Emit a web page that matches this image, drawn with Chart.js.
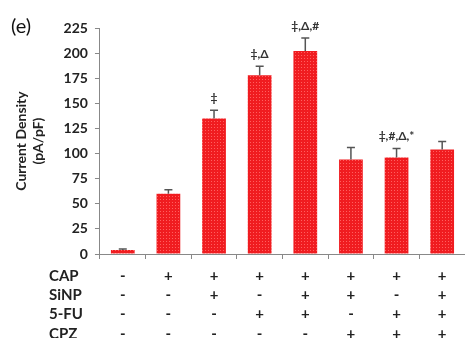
<!DOCTYPE html>
<html>
<head>
<meta charset="utf-8">
<script src="https://cdn.jsdelivr.net/npm/chart.js@4"></script>
<style>
  html, body { margin: 0; padding: 0; background: #fff; }
  #wrap { width: 465px; height: 338px; position: relative; }
</style>
</head>
<body>
<div id="wrap"><canvas id="c" width="465" height="338"></canvas></div>
<script>
// Treatment groups (one bar per group)
const groups = ['G1', 'G2', 'G3', 'G4', 'G5', 'G6', 'G7', 'G8'];
// Mean current density (pA/pF) and upper error (SEM)
const currentDensity = [4, 60, 135, 178, 202, 94, 96, 104];
const errorUpper = [1, 4, 8, 9, 13, 12, 9, 8];
// Significance markers above bars
const significance = ['', '', '‡', '‡,Δ', '‡,Δ,#', '', '‡,#,Δ,*', ''];
// Treatment table under the x axis
const rowNames = ['CAP', 'SiNP', '5-FU', 'CPZ'];
const CAP  = ['-', '+', '+', '+', '+', '+', '+', '+'];
const SiNP = ['-', '-', '+', '-', '+', '+', '-', '+'];
const FU5  = ['-', '-', '-', '+', '+', '-', '+', '+'];
const CPZ  = ['-', '-', '-', '-', '-', '+', '+', '+'];
const tableRows = [CAP, SiNP, FU5, CPZ];
const yTicks = [0, 25, 50, 75, 100, 125, 150, 175, 200, 225];

const FONT = 'Lato, "Open Sans", "Liberation Sans", sans-serif';

// dotted red fill, like a patterned spreadsheet bar
function dotPattern() {
  const p = document.createElement('canvas');
  p.width = 3; p.height = 3;
  const g = p.getContext('2d');
  g.fillStyle = 'rgb(240,28,32)';
  g.fillRect(0, 0, 3, 3);
  g.fillStyle = 'rgb(255,95,95)';
  g.fillRect(1, 1, 1, 1);
  return g.createPattern(p, 'repeat');
}

const extras = {
  id: 'extras',
  afterDatasetsDraw(chart) {
    const ctx = chart.ctx;
    const x = chart.scales.x, y = chart.scales.y;
    const meta = chart.getDatasetMeta(0);
    ctx.save();
    // error bars (upper only)
    ctx.strokeStyle = '#555';
    ctx.lineWidth = 1.5;
    meta.data.forEach((bar, i) => {
      const top = y.getPixelForValue(currentDensity[i] + errorUpper[i]);
      const base = y.getPixelForValue(currentDensity[i]);
      ctx.beginPath();
      ctx.moveTo(bar.x, base);
      ctx.lineTo(bar.x, top);
      ctx.moveTo(bar.x - 4, top);
      ctx.lineTo(bar.x + 4, top);
      ctx.stroke();
    });
    // significance markers
    ctx.fillStyle = '#333';
    ctx.font = 'bold 12px ' + FONT;
    ctx.textAlign = 'center';
    ctx.textBaseline = 'bottom';
    meta.data.forEach((bar, i) => {
      if (!significance[i]) return;
      const top = y.getPixelForValue(currentDensity[i] + errorUpper[i]);
      ctx.fillText(significance[i], bar.x, top - 6);
    });
    // treatment table
    ctx.fillStyle = '#222';
    ctx.font = 'bold 15px ' + FONT;
    ctx.textBaseline = 'middle';
    const rowY0 = y.getPixelForValue(0) + 22;
    const rowStep = 19.3;
    tableRows.forEach((row, r) => {
      const ry = rowY0 + r * rowStep;
      ctx.textAlign = 'left';
      ctx.fillText(rowNames[r], 49, ry);
      ctx.textAlign = 'center';
      row.forEach((s, i) => {
        ctx.fillText(s, x.getPixelForValue(i), ry);
      });
    });
    // panel letter
    ctx.font = '20px ' + FONT;
    ctx.fillStyle = '#111';
    ctx.textAlign = 'left';
    ctx.textBaseline = 'middle';
    ctx.fillText('(e)', 11, 27);
    ctx.restore();
  }
};

new Chart(document.getElementById('c'), {
  type: 'bar',
  data: {
    labels: groups,
    datasets: [{
      data: currentDensity,
      backgroundColor: dotPattern(),
      borderWidth: 0,
      categoryPercentage: 1,
      barPercentage: 0.52
    }]
  },
  options: {
    responsive: false,
    animation: false,
    events: [],
    layout: { padding: { top: 28, right: 0, bottom: 79, left: 13 } },
    plugins: { legend: { display: false }, tooltip: { enabled: false } },
    scales: {
      x: {
        grid: { display: true, drawOnChartArea: false, drawTicks: true, tickLength: 5, color: '#888', offset: true },
        border: { display: true, color: '#888', width: 1 },
        ticks: { display: false }
      },
      y: {
        min: 0, max: 225,
        afterBuildTicks(scale) { scale.ticks = yTicks.map(v => ({ value: v })); },
        grid: { drawOnChartArea: false, tickLength: 5, color: '#888' },
        border: { display: true, color: '#888', width: 1 },
        ticks: { color: '#222', font: { family: FONT, size: 14, weight: 'bold' }, padding: 7 },
        title: {
          display: true,
          text: ['Current Density', '(pA/pF)'],
          color: '#222',
          font: { family: FONT, size: 14, weight: 'bold' },
          padding: { top: 0, bottom: 10 }
        }
      }
    }
  },
  plugins: [extras]
});
</script>
</body>
</html>
